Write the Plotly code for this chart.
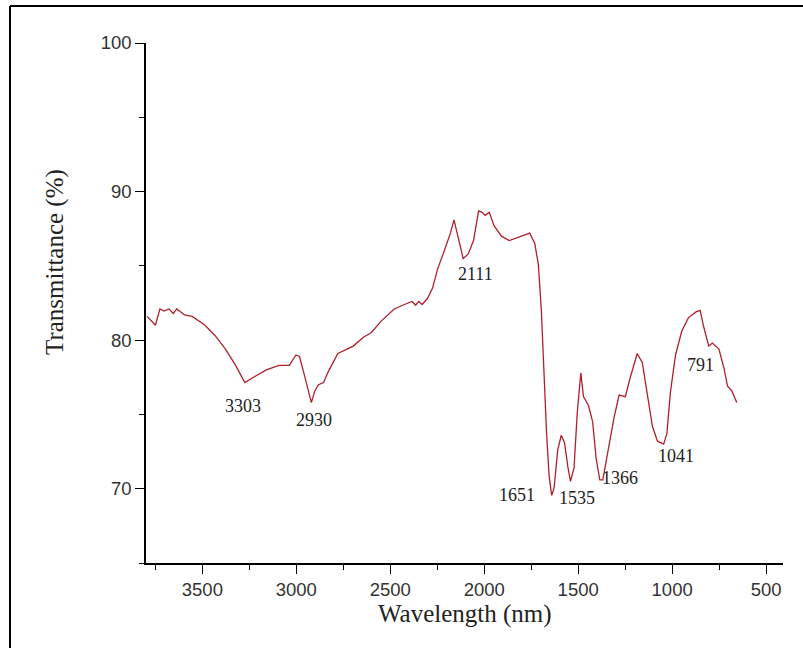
import plotly.graph_objects as go

# Spectrum data
wavenumber = [3794, 3750, 3726, 3704, 3677, 3655, 3636, 3595, 3554, 3486, 3432, 3377, 3323, 3274,
              3214, 3160, 3092, 3037, 3002, 2983, 2956, 2920, 2901, 2882, 2855, 2833, 2779, 2697,
              2643, 2602, 2547, 2479, 2425, 2384, 2365, 2349, 2330, 2302, 2275, 2248, 2213, 2180,
              2161, 2145, 2112, 2085, 2057, 2030, 2011, 1995, 1973, 1948, 1908, 1867, 1826, 1799,
              1758, 1731, 1712, 1696, 1682, 1668, 1655, 1641, 1628, 1609, 1590, 1573, 1554, 1541,
              1522, 1505, 1486, 1472, 1445, 1423, 1404, 1385, 1369, 1342, 1309, 1282, 1249, 1227,
              1186, 1159, 1132, 1105, 1078, 1045, 1028, 1009, 982, 949, 914, 873, 851, 832, 805,
              786, 751, 724, 705, 683, 656]
transmittance = [81.6, 81.0, 82.1, 81.96, 82.1, 81.8, 82.1, 81.7, 81.6, 81.0, 80.3, 79.4, 78.3, 77.15,
                 77.6, 78.0, 78.3, 78.3, 79.0, 78.9, 77.6, 75.8, 76.6, 77.0, 77.15, 77.8, 79.1, 79.6,
                 80.2, 80.5, 81.3, 82.1, 82.4, 82.6, 82.35, 82.6, 82.4, 82.8, 83.5, 84.8, 86.0, 87.2,
                 88.1, 87.2, 85.5, 85.8, 86.7, 88.7, 88.6, 88.4, 88.6, 87.7, 87.0, 86.7, 86.9, 87.0,
                 87.2, 86.5, 85.1, 82.0, 77.8, 73.7, 70.9, 69.55, 70.05, 72.6, 73.6, 73.1, 71.4, 70.5,
                 71.4, 75.1, 77.8, 76.2, 75.6, 74.5, 72.0, 70.6, 70.6, 72.6, 74.8, 76.3, 76.2, 77.3,
                 79.1, 78.5, 76.2, 74.2, 73.2, 73.0, 73.7, 76.5, 79.0, 80.6, 81.5, 81.9, 82.0, 80.9, 79.6,
                 79.8, 79.4, 78.1, 76.9, 76.6, 75.8]

# Peak labels
peak_labels = ["3303", "2930", "2111", "1651", "1535", "1366", "1041", "791"]
peak_label_x = [3282, 2907, 2049, 1826, 1505, 1276, 982, 851]
peak_label_y = [75.56, 74.65, 84.46, 69.6, 69.4, 70.75, 72.2, 78.3]

x_ticks = [3500, 3000, 2500, 2000, 1500, 1000, 500]
y_ticks = [70, 80, 90, 100]

W, H = 803, 648
ML, MR, MT, MB = 146, 20, 43, 85
pw = W - ML - MR
ph = H - MT - MB
bottom_px = H - MB

fig = go.Figure()
fig.add_trace(go.Scatter(
    x=wavenumber, y=transmittance, mode="lines",
    line=dict(color="#b0202a", width=1.3), showlegend=False, hoverinfo="skip"))

for t, xx, yy in zip(peak_labels, peak_label_x, peak_label_y):
    fig.add_annotation(x=xx, y=yy, text=t, showarrow=False, xanchor="center", yanchor="middle",
                       font=dict(family="Liberation Serif", size=18, color="#222"))

# Axis titles as annotations
fig.add_annotation(xref="paper", yref="paper", x=0.5, y=(bottom_px - 614) / ph, text="Wavelength (nm)",
                   showarrow=False, xanchor="center", yanchor="middle",
                   font=dict(family="Liberation Serif", size=25, color="#222"))
fig.add_annotation(xref="paper", yref="paper", x=(55 - ML) / pw, y=(bottom_px - 262) / ph,
                   text="Transmittance (%)", textangle=-90, showarrow=False,
                   xanchor="center", yanchor="middle",
                   font=dict(family="Liberation Serif", size=25, color="#222"))

# Outer frame (left and top lines)
fig.add_shape(type="line", xref="paper", yref="paper",
              x0=(10 - ML) / pw, x1=(10 - ML) / pw, y0=(bottom_px - 660) / ph, y1=(bottom_px - 6) / ph,
              line=dict(color="black", width=2))
fig.add_shape(type="line", xref="paper", yref="paper",
              x0=(10 - ML) / pw, x1=(810 - ML) / pw, y0=(bottom_px - 6) / ph, y1=(bottom_px - 6) / ph,
              line=dict(color="black", width=2))

fig.update_layout(
    width=W, height=H,
    margin=dict(l=ML, r=MR, t=MT, b=MB),
    paper_bgcolor="white", plot_bgcolor="white",
    showlegend=False,
    xaxis=dict(range=[3800, 410], tickvals=x_ticks, ticktext=[str(v) for v in x_ticks],
               showgrid=False, zeroline=False, showline=True, linecolor="black", linewidth=1.6,
               ticks="outside", ticklen=9, tickwidth=1.3, tickcolor="black",
               minor=dict(dtick=250, tick0=0, ticks="outside", ticklen=5, tickcolor="black", tickwidth=1),
               tickfont=dict(family="Liberation Sans", size=18.5, color="#333")),
    yaxis=dict(range=[65, 100], tickvals=y_ticks, ticktext=[str(v) for v in y_ticks],
               showgrid=False, zeroline=False, showline=True, linecolor="black", linewidth=1.6,
               ticks="outside", ticklen=9, tickwidth=1.3, tickcolor="black",
               minor=dict(dtick=5, tick0=0, ticks="outside", ticklen=5, tickcolor="black", tickwidth=1),
               tickfont=dict(family="Liberation Sans", size=18.5, color="#333")),
)

fig.write_html("out.html")
